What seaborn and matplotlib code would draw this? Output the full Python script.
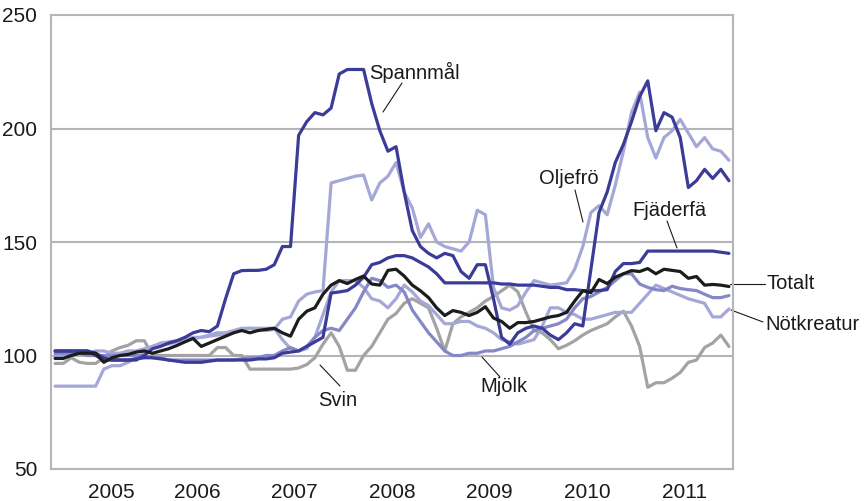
import numpy as np
import pandas as pd
import matplotlib
matplotlib.use("Agg")
import matplotlib.pyplot as plt
import seaborn as sns

# ---- data (monthly index, Jan 2005 - Dec 2011) ----
months = pd.date_range("2005-01-01", periods=84, freq="MS")

spannmal = [102, 102, 102, 102, 102, 101, 99, 98, 98, 98, 98, 100,
            103, 104, 105.5, 106.5, 108, 110, 111, 110.5, 113, 125, 136, 137.4,
            137.5, 137.5, 138, 140, 148, 148, 197, 203, 207, 206, 209, 224,
            226, 226, 226, 211, 199, 190, 192, 172, 155, 148, 145, 143,
            145, 144, 137, 134, 140, 140, 125, 108, 105, 110, 112, 113,
            112, 109, 107, 110, 114, 113, 138, 163, 172, 185, 193, 203,
            214, 221, 199, 207, 205, 196, 174, 177, 182, 178, 182, 177]

oljefro = [86.5, 86.5, 86.5, 86.5, 86.5, 86.5, 94, 95.5, 95.5, 97, 99, 101,
           104, 105.5, 106, 106.5, 107, 107.5, 108, 108.5, 109, 109.5, 110.5, 111.5,
           112, 111.5, 111, 111.5, 116, 117, 124, 127, 128, 128.6, 176, 177,
           178, 179, 179.5, 168.5, 176, 179, 185, 172, 165, 152, 158, 150,
           148, 147, 146, 150, 164, 162, 130, 121, 120, 122, 128, 133,
           132, 131, 131.5, 132, 138, 148, 163, 166, 162, 175, 190, 207,
           216, 196, 187, 196, 199, 204, 198, 192, 196, 191, 190, 186]

fjaderfa = [102, 102, 102, 102, 102, 100, 98, 98, 98, 98, 98.5, 99,
            99, 98.5, 98, 97.5, 97, 97, 97, 97.5, 98, 98, 98, 98,
            98, 98.5, 98.5, 99, 101, 101.5, 102, 104, 106, 108, 127.5, 128,
            128.6, 131, 134.5, 140, 141, 143, 144, 144, 143, 141, 139, 136,
            132, 132, 132, 132, 132, 132, 132, 131.5, 131.5, 131, 131, 131,
            130.5, 130, 130, 129, 129, 128.6, 128.6, 128.6, 129, 137, 140.5, 140.5,
            141, 146, 146, 146, 146, 146, 146, 146, 146, 146, 145.5, 145]

totalt = [98.7, 98.7, 100, 101, 101, 101, 97, 99, 100, 100.5, 101.5, 102,
          101, 102, 103, 104.4, 106, 107.5, 104, 105.5, 107, 108.5, 110, 111,
          110, 111, 111.5, 112, 110, 108.5, 116, 119.5, 121, 127, 131, 133,
          131.7, 133.5, 135, 131.5, 131, 137.5, 138, 135, 131, 128.5, 125.5, 121,
          117.6, 119.8, 119, 117.6, 119, 121.5, 116.5, 115, 112, 114.5, 114.5, 115,
          116, 117, 117.6, 119, 124, 128.5, 127.7, 133.5, 131.7, 134.5, 136, 137.4,
          137, 138.3, 136, 138, 137.5, 137, 134, 134.8, 131, 131.3, 131, 130.4]

notkreatur = [100, 100, 101, 101, 101, 102, 102, 101, 101, 102, 102, 103,
              104, 105, 105, 106, 107, 108, 108, 109, 110, 110, 111, 112,
              112, 112, 112, 112, 107, 103, 102, 103, 108, 118, 128, 133,
              133, 133, 130, 125, 124, 121, 125, 131, 128, 124, 122, 118,
              114, 114, 115, 115, 113, 112, 110, 107, 106, 105, 106, 107,
              113, 121, 121, 119, 118, 116, 116, 117, 118, 119, 119, 119,
              123, 127, 131, 129.5, 128, 126.5, 125, 124, 123, 117, 117, 120.5]

mjolk = [101, 101, 101, 101, 100, 100, 100, 100, 100, 100, 100, 100,
         99, 99, 98, 98, 98, 98, 98, 98, 98, 98, 98, 98.5,
         99, 99, 100, 100, 102, 103.5, 102, 104, 108, 111, 112, 111,
         116, 121, 128, 134, 133, 130, 131, 128, 120, 115, 110, 106,
         102, 100, 100, 101, 101, 102, 102, 103, 104, 106, 108, 111,
         112, 113, 114, 116, 121, 125, 126, 128, 130, 133, 136, 136,
         131.5, 130, 129, 128.6, 130.5, 129.5, 129, 128.6, 127, 125.5, 125.5, 126.4]

svin = [96.5, 96.5, 99, 97, 96.5, 96.5, 99, 102, 103.5, 104.5, 106.5, 106.5,
        100, 100, 100, 100, 100, 100, 100, 100, 103.5, 103.5, 100, 100,
        94, 94, 94, 94, 94, 94, 94.5, 96, 99, 105, 110, 104,
        93.5, 93.5, 100, 104, 110, 116, 118.5, 123, 125, 123, 121, 112,
        102, 114, 117, 119, 121, 124, 126, 128.5, 131, 128, 119, 111,
        110, 107, 103, 104.5, 106.5, 109, 111, 112.5, 114, 117, 119.5, 113,
        104, 86, 88, 88, 90, 92.5, 97, 98, 103.5, 105.5, 109, 104]

year_labels = ["2005", "2006", "2007", "2008", "2009", "2010", "2011"]
y_ticks = [50, 100, 150, 200, 250]

series = {
    "Svin": svin,
    "Nötkreatur": notkreatur,
    "Oljefrö": oljefro,
    "Mjölk": mjolk,
    "Fjäderfä": fjaderfa,
    "Spannmål": spannmal,
    "Totalt": totalt,
}

DARK = "#3b3b98"
LIGHT = "#a5a7d6"
MED = "#8587c6"
GRAY = "#a3a3a3"
BLACK = "#1c1c1c"
palette = {"Svin": GRAY, "Nötkreatur": LIGHT, "Oljefrö": LIGHT, "Mjölk": MED,
           "Fjäderfä": DARK, "Spannmål": DARK, "Totalt": BLACK}

t = months.year + (months.month - 1 + 0.5) / 12.0
rows = []
for name, vals in series.items():
    for tt, v in zip(t, vals):
        rows.append({"t": tt, "value": v, "series": name})
df = pd.DataFrame(rows)

sns.set_theme(style="white")
plt.rcParams["font.family"] = ["Liberation Sans", "DejaVu Sans"]

fig = plt.figure(figsize=(8.65, 5.01), dpi=100)
ax = fig.add_axes([51 / 865, 1 - 469 / 501, (733 - 51) / 865, (469 - 15) / 501])

GRID = "#b5b5b9"
for yv in [100, 150, 200]:
    ax.axhline(yv, color=GRID, lw=1.5, zorder=0)

sns.lineplot(data=df, x="t", y="value", hue="series", hue_order=list(series.keys()),
             palette=palette, linewidth=2.3, legend=False, ax=ax, sort=False)

ax.set_xlim(2005, 2012)
ax.set_ylim(50, 250)
ax.set_xlabel("")
ax.set_ylabel("")

for s in ax.spines.values():
    s.set_color(GRID)
    s.set_linewidth(1.5)

ax.set_yticks(y_ticks)
ax.set_yticklabels([str(v) for v in y_ticks], fontsize=15, color="#1a1a1a")
ax.tick_params(axis="y", length=0, pad=10)

label_pos = [2005.62] + [y + 0.5 for y in range(2006, 2012)]
ax.set_xticks(label_pos)
ax.set_xticklabels(year_labels, fontsize=15, color="#1a1a1a")
ax.tick_params(axis="x", which="major", length=0, pad=10)
ax.set_xticks(list(range(2006, 2012)), minor=True)
ax.tick_params(axis="x", which="minor", direction="in", length=9, width=1.5, color=GRID)


def px2data(px, py):
    xd = 2005 + (px - 51) / (733 - 51) * 7
    yd = 250 - (py - 15) / (469 - 15) * 200
    return xd, yd


def label(text, tx, ty, l0, l1, ha="left"):
    x, y = px2data(tx, ty)
    ax.text(x, y, text, fontsize=14.5, ha=ha, va="center", color="#1a1a1a", clip_on=False)
    (x0, y0), (x1, y1) = px2data(*l0), px2data(*l1)
    ax.plot([x0, x1], [y0, y1], color="#1a1a1a", lw=0.8, clip_on=False)


label("Spannmål", 369, 72, (402, 83), (383, 112))
label("Oljefrö", 539, 178, (575, 190), (583, 222))
label("Fjäderfä", 632, 210, (667, 221), (677, 248))
label("Totalt", 766, 283, (730, 284), (765, 284))
label("Nötkreatur", 765, 325, (731, 310), (763, 322))
label("Mjölk", 480, 386, (482, 357), (500, 377))
label("Svin", 318, 400, (320, 365), (340, 386))

fig.savefig("out.png", dpi=100)
